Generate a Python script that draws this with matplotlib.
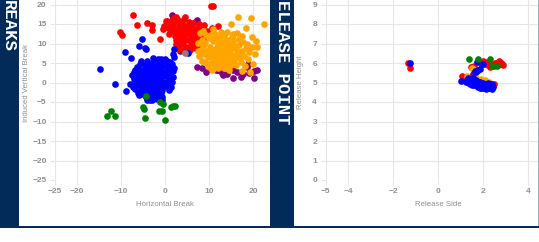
import matplotlib
matplotlib.use("Agg")
import matplotlib.pyplot as plt
from matplotlib.patches import Rectangle

plt.rcParams['font.family'] = ['Liberation Sans', 'DejaVu Sans']
plt.rcParams['font.weight'] = 'bold'

W, H = 539, 242
NAVY = '#022b5a'
GRID = '#e6e6e6'
TXT = '#8f8f8f'

# ---- pitch break data (horizontal, induced vertical) ----
brk_blue = [(-2.5,1.0),(-3.1,0.4),(-1.8,1.6),(-2.2,-0.3),(-3.6,1.9),(-1.2,0.2),(-2.9,2.7),(-4.0,0.6),
            (-1.5,2.9),(-2.0,-1.2),(-3.3,-0.9),(-0.8,1.3),(-4.4,-0.2),(-2.6,3.6),(-1.0,-0.6),(-3.8,2.8),
            (-0.5,2.4),(-5.0,1.2),(-2.3,4.3),(-1.6,-2.0),(-3.0,-2.1),(-4.6,1.8),(-0.3,0.1),(-5.3,0.0),
            (-1.9,3.5),(-3.5,3.9),(-0.9,3.6),(-2.7,-1.6),(-4.2,-1.3),(-0.1,-0.9),(-5.6,2.4),(-3.9,-2.6),
            (-1.3,4.6),(-2.1,0.6),(-2.8,1.8),(-3.4,0.9),(-1.7,0.9),(-4.8,-0.8),(-0.6,-1.8),(-2.4,2.2),
            (-3.2,2.3),(-1.1,2.0),(-4.1,3.4),(0.3,1.7),(0.6,3.0),(-6.0,1.0),(-5.9,-0.7),(-2.6,-2.8),
            (-3.6,-3.2),(-1.4,-3.0),(0.2,4.2),(-0.4,4.9),(-2.0,5.3),(-3.0,5.0),(-4.5,4.4),(-5.2,3.3),
            (-6.4,2.2),(-6.6,-0.2),(-7.1,0.9),(-5.5,-2.0),(-4.9,-2.9),(-3.4,-4.0),(-2.2,-3.7),(-0.9,-2.6),
            (0.5,-0.4),(1.0,1.0),(1.2,2.4),(0.9,3.9),(1.6,4.8),(0.4,5.6),(-1.0,5.9),(-2.7,6.2),
            (-4.0,5.6),(-5.7,4.7),(-6.9,3.1),(-7.5,1.8),(-7.9,-0.4),(-6.8,-1.6),(-6.1,-2.6),(-4.4,-3.7),
            (-2.9,-4.5),(-1.8,-4.2),(1.5,0.1),(1.8,2.9),(2.1,3.8),(1.3,-1.2),(-3.7,4.7),(-1.7,6.0),
            (-0.2,2.8),(-4.3,2.5),(-5.0,-1.7),(-3.1,-3.3),(-2.4,3.0),(-1.2,1.2),(-3.5,0.0),(-2.0,2.0),
            (-4.0,1.3),(-1.5,-1.0),(-2.8,0.0),(-3.9,-0.5),(0.8,-1.9),(1.9,1.4),(-6.3,3.9),(-7.3,-1.1),
            (-5.4,5.5),(0.0,5.9),(1.1,5.3),(-0.7,-4.5),(-5.8,-3.3),(-7.0,2.6),
            (-14.8,3.5),(-11.4,-0.3),(-9.1,7.8),(-8.9,-2.3),(-7.7,6.2),(-5.8,9.3),(-5.2,11.2),(-4.6,8.9),
            (-4.4,8.5),(2.0,8.6),(1.9,7.4),(2.0,6.5),(5.2,7.6),(-0.6,-3.8),(-0.8,-3.6),(-4.0,-4.6),(-3.4,-4.4)]

brk_red = [(3.4,12.9),(2.5,13.8),(4.2,12.1),(1.8,14.6),(5.0,13.4),(3.0,11.2),(2.2,12.0),(4.6,14.5),
           (3.8,15.3),(1.1,15.2),(5.7,12.3),(6.2,13.9),(2.9,16.0),(0.6,14.0),(4.0,10.5),(5.3,10.9),
           (6.6,11.0),(3.2,14.4),(1.5,13.1),(7.0,12.6),(7.4,10.4),(6.0,9.6),(4.8,9.2),(3.6,9.9),
           (2.6,10.0),(5.5,15.6),(4.3,16.4),(2.0,16.5),(0.3,15.7),(7.7,14.2),(8.4,12.0),(8.6,10.0),
           (6.8,8.8),(5.7,8.4),(2.5,16.9),(4.5,16.7),(7.8,14.9),(-0.2,14.4),(1.0,12.4),(3.9,13.5),
           (5.9,11.6),(2.8,12.6),(4.4,11.4),(6.4,12.8),(3.3,14.9),(1.6,16.1),(5.1,14.2),(7.2,11.6),
           (6.9,13.6),(4.9,12.6),(2.1,15.4),(3.7,11.8),(8.0,13.1),(9.0,11.4),(9.6,13.2),(8.8,14.8),
           (7.5,9.4),(6.3,15.2),(3.1,8.7),(4.1,8.4),(2.4,11.0),(5.6,14.0),(6.7,10.1),(1.3,14.0),
           (-7.2,17.3),(-10.3,12.9),(-9.7,12.2),(-6.3,14.8),(-4.0,15.2),(-3.0,14.8),(-2.9,13.4),
           (-1.1,11.2),(10.4,19.7),(11.0,19.7),(12.0,14.4),(10.7,14.0),(0.4,15.7),(-0.4,13.7)]

brk_orange = [(13.3,7.4),(12.5,8.1),(14.1,6.8),(11.8,6.9),(14.8,8.3),(12.9,5.9),(13.7,9.2),(11.2,8.4),
              (15.3,7.0),(12.1,9.6),(14.4,5.4),(10.7,7.5),(16.0,8.8),(13.0,10.4),(15.6,5.8),(11.5,5.5),
              (16.5,7.4),(10.2,9.0),(12.6,4.8),(14.9,9.9),(9.8,6.6),(17.1,6.2),(11.0,10.6),(13.8,4.3),
              (16.8,9.7),(9.4,8.2),(15.1,4.6),(12.3,11.4),(17.6,8.0),(10.5,5.0),(14.2,11.0),(8.9,7.3),
              (18.0,6.9),(11.6,4.1),(16.2,4.5),(13.4,3.7),(8.6,9.3),(15.7,10.8),(10.0,11.5),(17.3,5.3),
              (12.0,3.6),(14.6,3.3),(8.1,8.4),(18.5,8.9),(9.2,10.1),(16.9,11.2),(11.3,12.4),(13.5,12.0),
              (7.8,6.7),(18.9,5.9),(10.9,3.5),(15.4,12.4),(12.7,12.9),(7.4,8.0),(19.2,7.7),(14.0,13.0),
              (9.7,4.4),(17.8,10.5),(8.4,5.6),(16.4,12.8),(12.2,7.2),(13.9,7.9),(11.4,7.8),(15.0,6.2),
              (12.8,6.6),(14.6,8.9),(11.9,9.0),(13.2,8.6),(10.8,8.0),(15.9,6.5),(13.6,5.2),(12.4,10.1),
              (14.3,10.2),(11.1,6.2),(16.3,8.2),(10.3,6.9),(17.0,7.5),(9.9,7.7),(13.1,6.1),(14.7,7.4),
              (9.0,5.3),(15.8,9.4),(12.0,8.7),(11.7,11.1),(10.4,12.1),(9.3,12.3),(8.3,11.0),(7.5,10.2),
              (7.9,12.6),(8.7,13.1),(18.2,4.2),(17.5,12.0),(10.1,4.0),(15.2,11.6),(18.7,10.0),
              (16.5,16.9),(19.5,16.6),(22.4,14.9),(14.9,14.9),(19.8,11.7),(20.8,9.0),(19.8,9.0),(20.5,7.2),
              (20.1,4.8),(19.3,2.6),(10.7,3.1),(11.0,13.8),(18.3,14.0),(17.4,3.0),(20.6,10.6)]

brk_purple = [(1.7,17.2),(6.8,15.6),(7.3,16.0),(6.1,10.3),(3.4,8.2),(6.4,11.2),(7.2,4.1),(9.3,2.6),
              (10.5,3.5),(11.7,3.1),(12.9,2.5),(14.0,2.1),(15.5,1.2),(15.5,3.2),(15.0,3.5),(17.3,1.5),
              (18.6,3.9),(18.9,4.8),(19.2,2.4),(20.2,2.9),(21.0,3.1),(20.2,1.1),(17.8,2.2),(16.4,2.6),
              (13.2,1.9),(8.5,3.8),(12.1,3.1)]

brk_green = [(-13.1,-8.6),(-12.3,-7.2),(-11.4,-8.5),(-4.4,-3.5),(-5.1,-6.2),(-4.8,-6.9),(-4.5,-9.2),
             (-1.1,-5.0),(-0.4,-5.6),(-1.4,-7.4),(-0.6,-7.2),(0.0,-9.7),(1.4,-6.2),(2.3,-5.9),(1.8,-6.0)]

brk_gray = [(4.5,7.6)]

# ---- release point data (side, height) ----
rel_blue = [(1.30,5.15),(1.35,5.05),(1.40,5.20),(1.45,5.00),(1.50,5.10),(1.55,4.95),(1.60,5.05),(1.65,4.90),
            (1.70,5.00),(1.75,4.85),(1.80,4.95),(1.85,4.80),(1.90,4.90),(1.95,4.78),(2.00,4.85),(2.05,4.75),
            (2.10,4.82),(2.15,4.72),(2.20,4.80),(2.25,4.74),(2.30,4.85),(2.35,4.78),(2.40,4.82),(1.25,5.05),
            (1.38,4.95),(1.48,5.18),(1.58,4.88),(1.68,5.12),(1.78,4.78),(1.88,5.02),(1.98,4.70),(2.08,4.92),
            (2.18,4.88),(2.28,4.70),(2.38,4.90),(1.33,5.22),(1.62,5.15),(1.72,4.82),(1.92,4.72),(2.02,4.95),
            (2.12,4.68),(2.22,4.95),(2.45,4.75),(1.42,4.90),(1.52,4.85),(1.82,5.05),(2.32,4.92),(1.57,5.22),
            (1.87,4.70),(2.42,4.68),
            (1.02,5.09),(1.75,6.07),(2.00,5.95),(1.79,5.64),(1.70,5.55),(1.85,5.70),(1.65,5.60),(-1.25,6.0)]

rel_orange = [(1.35,5.30),(1.45,5.28),(1.55,5.25),(1.65,5.20),(1.75,5.18),(1.85,5.15),(1.95,5.12),
              (2.05,5.10),(2.15,5.08),(2.25,5.05),(1.30,5.35),(1.50,5.32),(1.70,5.25),(1.90,5.20),
              (2.10,5.15),(2.30,5.00),(1.50,5.73),(1.55,5.68),(1.40,5.25)]

rel_red = [(-1.35,6.0),(-1.25,5.75),(1.50,5.80),(1.60,5.85),(1.05,5.35),(2.00,6.10),(2.10,5.95),(2.24,5.90),
           (2.35,5.85),(2.45,5.95),(2.55,6.00),(2.61,5.98),(2.70,6.10),(2.76,6.07),(2.85,5.95),(2.90,5.90),
           (2.80,5.98),(2.49,4.91),(1.90,5.95),(1.45,5.78),(2.65,5.92),(1.10,5.25),(2.30,5.80),(2.15,6.05)]

rel_purple = [(1.55,5.45)]

rel_green = [(1.38,6.19),(1.79,6.19),(2.31,6.19),(2.39,5.83),(2.61,5.83),(2.50,5.85)]

brk_xticks = [-25, -20, -10, 0, 10, 20]
brk_yticks = [-25, -20, -15, -10, -5, 0, 5, 10, 15, 20]
rel_xticks = [-5, -4, -2, 0, 2, 4]
rel_yticks = list(range(0, 10))


def px_axes(fig, x0, y0, x1, y1):
    return fig.add_axes([x0 / W, 1 - y1 / H, (x1 - x0) / W, (y1 - y0) / H])


def px_rect(fig, x0, y0, x1, y1, color):
    fig.patches.append(Rectangle((x0 / W, 1 - y1 / H), (x1 - x0) / W, (y1 - y0) / H,
                                 transform=fig.transFigure, color=color, lw=0, zorder=5))


def scatter(ax, pts, color):
    ax.scatter([p[0] for p in pts], [p[1] for p in pts], s=23, c=color, linewidths=0, zorder=3)


def style(ax, xticks, yticks, xlabel, ylabel, ylab_x):
    ax.set_xticks(xticks)
    ax.set_yticks(yticks)
    ax.grid(color=GRID, lw=0.8)
    ax.set_axisbelow(True)
    for s in ax.spines.values():
        s.set_visible(False)
    ax.tick_params(length=3.6, width=0.8, color=GRID, pad=2.5, labelsize=6, labelcolor=TXT)
    ax.set_xlabel(xlabel, fontsize=5.6, color=TXT, va='center')
    ax.xaxis.set_label_coords(0.5, -25 / 195)
    ax.set_ylabel(ylabel, fontsize=5.6, color=TXT, va='center')
    ax.yaxis.set_label_coords(ylab_x, 0.5)


fig = plt.figure(figsize=(W / 100, H / 100), dpi=100)

ax1 = px_axes(fig, 55, -15, 275, 180)
scatter(ax1, brk_purple, '#800080')
scatter(ax1, brk_red, '#ff0000')
scatter(ax1, brk_orange, '#ffa500')
scatter(ax1, brk_blue, '#0000ff')
scatter(ax1, brk_green, '#008000')
scatter(ax1, brk_gray, '#808080')
ax1.set_xlim(-25, 25)
ax1.set_ylim(-25, 25)
style(ax1, brk_xticks, brk_yticks, 'Horizontal Break', 'Induced Vertical Break', -29 / 220)

ax2 = px_axes(fig, 325.5, -15, 550.5, 180)
scatter(ax2, rel_red, '#ff0000')
scatter(ax2, rel_orange, '#ffa500')
scatter(ax2, rel_purple, '#800080')
scatter(ax2, rel_blue, '#0000ff')
scatter(ax2, rel_green, '#008000')
ax2.set_xlim(-5, 5)
ax2.set_ylim(0, 10)
style(ax2, rel_xticks, rel_yticks, 'Release Side', 'Release Height', -25.5 / 225)

# navy frame pieces
px_rect(fig, 0, 0, 19, 228, NAVY)
px_rect(fig, 270, 0, 293.5, 228, NAVY)
px_rect(fig, 0, 226, W, 228, NAVY)
px_rect(fig, 537.6, 0, W, 226, '#9fb0c4')

fig.text(8 / W, 1, 'REAKS', rotation=270, ha='center', va='top', color='white',
         family='Liberation Mono', weight='bold', fontsize=12.5, zorder=6)
fig.text(282 / W, 1, 'ELEASE POINT', rotation=270, ha='center', va='top', color='white',
         family='Liberation Mono', weight='bold', fontsize=12.5, zorder=6)

fig.savefig('out.png', dpi=100)
